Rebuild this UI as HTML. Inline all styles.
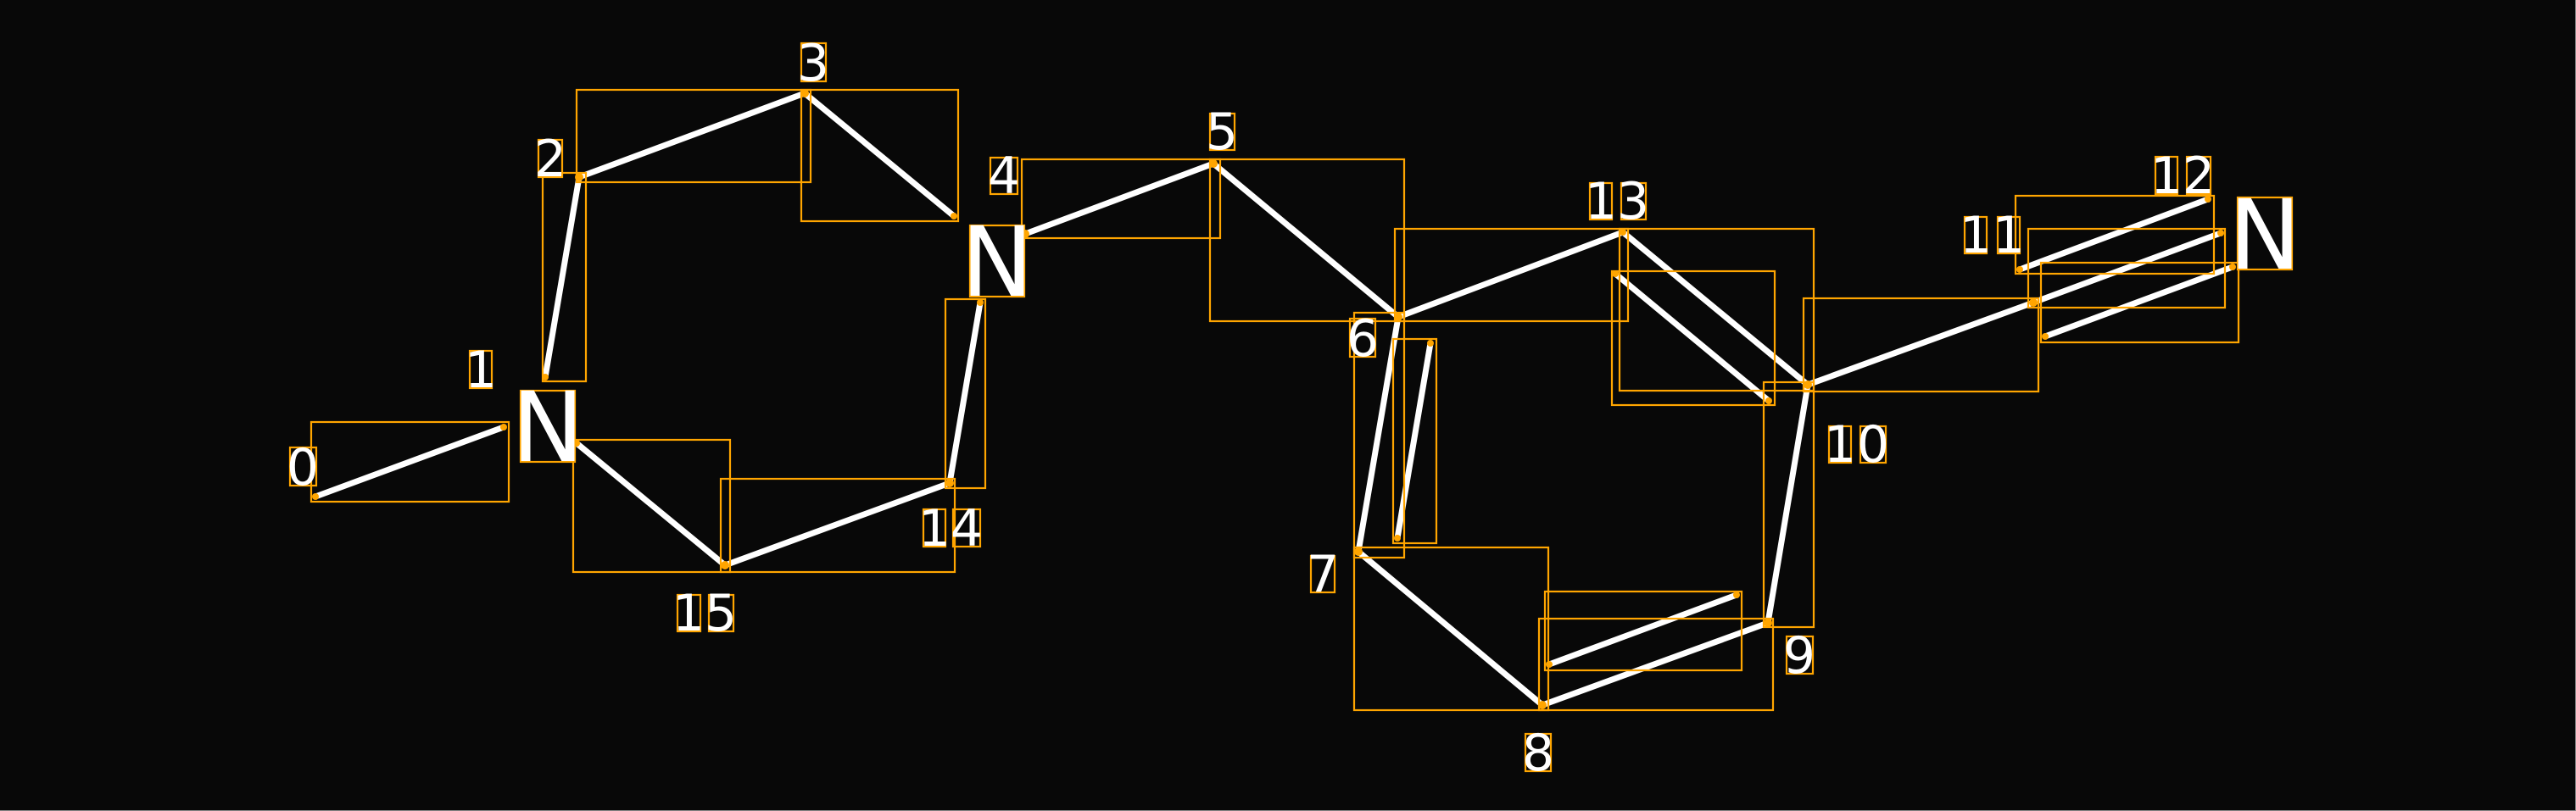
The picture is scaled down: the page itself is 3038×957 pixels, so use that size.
<!DOCTYPE html>
<html><head><meta charset="utf-8"><style>
html,body{margin:0;padding:0;background:#080808;}
svg{display:block;}
text{font-family:"DejaVu Sans","Liberation Sans",sans-serif;fill:#fff;}
</style></head><body>
<svg width="3038" height="957" viewBox="0 0 3038 957" xmlns="http://www.w3.org/2000/svg">
<rect width="3038" height="957" fill="#080808"/>
<line x1="3037.5" y1="0" x2="3037.5" y2="957" stroke="#888" stroke-width="1"/>
<line x1="0" y1="956.5" x2="3038" y2="956.5" stroke="#888" stroke-width="1"/>
<g stroke="#fff" stroke-width="7" stroke-linecap="round" fill="none">
<line x1="372" y1="586" x2="594" y2="504"/>
<line x1="680" y1="523" x2="855" y2="667"/>
<line x1="855" y1="667" x2="1120" y2="570"/>
<line x1="1120" y1="570" x2="1156" y2="357"/>
<line x1="643" y1="445" x2="683" y2="209"/>
<line x1="683" y1="209" x2="949" y2="110"/>
<line x1="949" y1="110" x2="1125" y2="255"/>
<line x1="1209" y1="276" x2="1431" y2="193"/>
<line x1="1431" y1="193" x2="1649" y2="374"/>
<line x1="1649" y1="374" x2="1914" y2="274"/>
<line x1="1914" y1="274" x2="2132" y2="454"/>
<line x1="1905" y1="323" x2="2086" y2="473"/>
<line x1="1649" y1="374" x2="1602" y2="651"/>
<line x1="1687" y1="405" x2="1648" y2="635"/>
<line x1="1602" y1="651" x2="1819" y2="832"/>
<line x1="1819" y1="832" x2="2085" y2="735"/>
<line x1="1827" y1="784" x2="2048" y2="702"/>
<line x1="2085" y1="735" x2="2132" y2="454"/>
<line x1="2132" y1="454" x2="2398" y2="357"/>
<line x1="2398" y1="357" x2="2619" y2="275"/>
<line x1="2382" y1="318" x2="2604" y2="235"/>
<line x1="2412" y1="397" x2="2633" y2="315"/>
</g>
<g stroke="#FFA500" stroke-width="2.2" fill="none">
<rect x="367" y="498" width="233" height="94"/>
<rect x="676" y="519" width="185" height="156"/>
<rect x="850" y="565" width="276" height="110"/>
<rect x="1115" y="353" width="47" height="223"/>
<rect x="640" y="204" width="51" height="246"/>
<rect x="680" y="106" width="276" height="109"/>
<rect x="945" y="106" width="185" height="155"/>
<rect x="1205" y="188" width="234" height="93"/>
<rect x="1427" y="188" width="229" height="191"/>
<rect x="1645" y="270" width="275" height="109"/>
<rect x="1910" y="270" width="229" height="191"/>
<rect x="1901" y="320" width="192" height="158"/>
<rect x="1597" y="369" width="59" height="289"/>
<rect x="1643" y="400" width="51" height="241"/>
<rect x="1597" y="646" width="229" height="192"/>
<rect x="1815" y="730" width="276" height="108"/>
<rect x="1822" y="698" width="232" height="93"/>
<rect x="2080" y="451" width="59" height="289"/>
<rect x="2127" y="352" width="277" height="110"/>
<rect x="2392" y="270" width="232" height="93"/>
<rect x="2377" y="231" width="234" height="92"/>
<rect x="2407" y="310" width="233" height="94"/>
<rect x="342" y="528" width="31" height="45"/>
<rect x="554" y="414" width="26" height="44"/>
<rect x="635" y="165" width="28" height="44"/>
<rect x="945" y="51" width="29" height="45"/>
<rect x="1168" y="186" width="32" height="43"/>
<rect x="1427" y="134" width="29" height="43"/>
<rect x="1592" y="376" width="30" height="45"/>
<rect x="1546" y="656" width="28" height="43"/>
<rect x="1799" y="866" width="30" height="44"/>
<rect x="2107" y="751" width="31" height="44"/>
<rect x="2157" y="503" width="26" height="43"/>
<rect x="2194" y="503" width="30" height="43"/>
<rect x="2317" y="256" width="26" height="43"/>
<rect x="2356" y="256" width="26" height="43"/>
<rect x="2542" y="185" width="26" height="44"/>
<rect x="2579" y="185" width="28" height="44"/>
<rect x="1875" y="216" width="26" height="43"/>
<rect x="1912" y="216" width="29" height="43"/>
<rect x="1089" y="601" width="26" height="44"/>
<rect x="1124" y="601" width="32" height="44"/>
<rect x="799" y="702" width="27" height="43"/>
<rect x="836" y="702" width="29" height="43"/>
<rect x="614" y="461" width="64" height="84"/>
<rect x="1144" y="266" width="64" height="84"/>
<rect x="2639" y="233" width="64" height="85"/>
</g>
<g fill="#FFA500">
<circle cx="372" cy="586" r="4"/><circle cx="594" cy="504" r="4"/>
<circle cx="680" cy="523" r="4"/><circle cx="855" cy="667" r="5"/>
<circle cx="1120" cy="570" r="5"/><circle cx="1156" cy="357" r="4"/>
<circle cx="643" cy="445" r="4"/><circle cx="683" cy="209" r="5"/>
<circle cx="949" cy="110" r="5"/><circle cx="1125" cy="255" r="4"/>
<circle cx="1209" cy="276" r="5"/><circle cx="1431" cy="193" r="5"/>
<circle cx="1649" cy="374" r="5"/><circle cx="1914" cy="274" r="4"/>
<circle cx="2132" cy="454" r="5"/><circle cx="1905" cy="323" r="4"/>
<circle cx="2086" cy="473" r="4"/><circle cx="1687" cy="405" r="4"/>
<circle cx="1648" cy="635" r="4"/><circle cx="1602" cy="651" r="5"/>
<circle cx="1819" cy="832" r="5"/><circle cx="2085" cy="735" r="5"/>
<circle cx="1827" cy="784" r="4"/><circle cx="2048" cy="702" r="4"/>
<circle cx="2398" cy="357" r="5"/><circle cx="2619" cy="275" r="4"/>
<circle cx="2382" cy="318" r="4"/><circle cx="2604" cy="235" r="4"/>
<circle cx="2412" cy="397" r="4"/><circle cx="2633" cy="315" r="4"/>
</g>
<g font-size="60" text-anchor="middle">
<text x="357" y="572">0</text>
<text x="567" y="457">1</text>
<text x="649" y="208">2</text>
<text x="959" y="95">3</text>
<text x="1184" y="228">4</text>
<text x="1441" y="176">5</text>
<text x="1607" y="420">6</text>
<text x="1560" y="698">7</text>
<text x="1814" y="909">8</text>
<text x="2122" y="794">9</text>
<text x="2170" y="545">1</text><text x="2209" y="545">0</text>
<text x="2330" y="298">1</text><text x="2369" y="298">1</text>
<text x="2555" y="228">1</text><text x="2593" y="228">2</text>
<text x="1888" y="258">1</text><text x="1926" y="258">3</text>
<text x="1102" y="644">1</text><text x="1140" y="644">4</text>
<text x="812" y="744">1</text><text x="850" y="744">5</text>
</g>
<g font-size="114" text-anchor="middle">
<text x="646" y="544">N</text>
<text x="1176" y="349">N</text>
<text x="2671" y="317">N</text>
</g>
</svg>
</body></html>
